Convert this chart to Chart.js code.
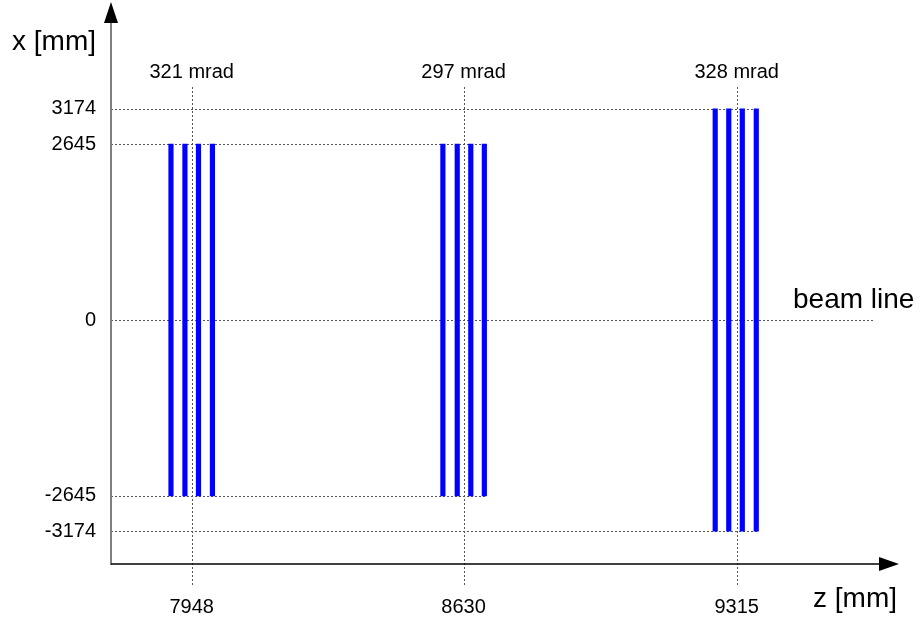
<!DOCTYPE html>
<html>
<head>
<meta charset="utf-8">
<title>Station layout</title>
<script src="https://cdn.jsdelivr.net/npm/chart.js@4.4.0/dist/chart.umd.min.js"></script>
<style>
    html, body { margin: 0; padding: 0; background: #fff; }
    canvas { display: block; }
</style>
</head>
<body>
<canvas id="layout" width="922" height="622"></canvas>
<script>
// stations along the beam: z position (mm), half aperture in x (mm), opening angle
const stationZ = [7948, 8630, 9315];
const stationHalfX = [2645, 2645, 3174];
const stationAngle = ['321 mrad', '297 mrad', '328 mrad'];

// the four layers of every station (z, mm)
const layerZ = [
    [7896, 7931, 7965, 8000],
    [8578, 8614, 8648, 8682],
    [9261, 9295, 9329, 9364]
];

// tick labels of the x axis (vertical, mm)
const xTicks = [3174, 2645, 0, -2645, -3174];

const FONT = 'Liberation Sans, Arial, Helvetica, sans-serif';
const BAR_W = 4.5;

Chart.defaults.font.family = FONT;
Chart.defaults.color = '#000';

const layers = [];
layerZ.forEach((group, i) => {
    group.forEach(z => {
        layers.push({ x: z, y: [-stationHalfX[i], stationHalfX[i]] });
    });
});

// dotted guide lines, under the bars
const guides = {
    id: 'guides',
    beforeDatasetsDraw(chart) {
        const ctx = chart.ctx;
        const area = chart.chartArea;
        const xs = chart.scales.x;
        const ys = chart.scales.y;
        ctx.save();
        ctx.strokeStyle = '#555';
        ctx.lineWidth = 1;
        ctx.setLineDash([2, 2]);

        xTicks.forEach(v => {
            let end;
            if (v === 0) {
                end = area.right - 23;
            } else {
                // run to the outer layer of the last station with that aperture
                let last = 0;
                stationHalfX.forEach((h, i) => { if (h === Math.abs(v)) last = i; });
                const g = layerZ[last];
                end = xs.getPixelForValue(g[g.length - 1]) + BAR_W / 2;
            }
            const py = Math.round(ys.getPixelForValue(v)) + 0.5;
            ctx.beginPath();
            ctx.moveTo(area.left, py);
            ctx.lineTo(end, py);
            ctx.stroke();
        });

        stationZ.forEach(z => {
            const px = Math.round(xs.getPixelForValue(z)) + 0.5;
            ctx.beginPath();
            ctx.moveTo(px, area.top + 84);
            ctx.lineTo(px, area.bottom + 23);
            ctx.stroke();
        });
        ctx.restore();
    }
};

// axes with arrows, titles and angle labels
const frame = {
    id: 'frame',
    afterDraw(chart) {
        const ctx = chart.ctx;
        const area = chart.chartArea;
        const xs = chart.scales.x;
        ctx.save();

        // vertical axis
        ctx.strokeStyle = '#808080';
        ctx.lineWidth = 2;
        ctx.beginPath();
        ctx.moveTo(area.left, area.bottom + 1);
        ctx.lineTo(area.left, area.top + 20);
        ctx.stroke();
        ctx.fillStyle = '#000';
        ctx.beginPath();
        ctx.moveTo(area.left, area.top - 1);
        ctx.lineTo(area.left - 7, area.top + 20);
        ctx.lineTo(area.left + 7, area.top + 20);
        ctx.closePath();
        ctx.fill();

        // horizontal axis
        ctx.strokeStyle = '#000';
        ctx.lineWidth = 1.5;
        ctx.beginPath();
        ctx.moveTo(area.left, area.bottom);
        ctx.lineTo(area.right - 18, area.bottom);
        ctx.stroke();
        ctx.beginPath();
        ctx.moveTo(area.right + 1, area.bottom);
        ctx.lineTo(area.right - 19, area.bottom - 7);
        ctx.lineTo(area.right - 19, area.bottom + 7);
        ctx.closePath();
        ctx.fill();

        ctx.fillStyle = '#000';
        ctx.textBaseline = 'alphabetic';
        ctx.font = '28px ' + FONT;
        ctx.textAlign = 'left';
        ctx.fillText('x [mm]', 12, 50);
        ctx.fillText('beam line', 793, 308);
        ctx.fillText('z [mm]', 813, 607);

        ctx.font = '20px ' + FONT;
        ctx.textAlign = 'center';
        stationZ.forEach((z, i) => {
            ctx.fillText(stationAngle[i], xs.getPixelForValue(z), 78);
        });
        ctx.restore();
    }
};

new Chart(document.getElementById('layout'), {
    type: 'bar',
    data: {
        datasets: [{
            label: 'layers',
            data: layers,
            backgroundColor: '#0000ff',
            borderWidth: 0,
            barThickness: BAR_W
        }]
    },
    options: {
        responsive: false,
        animation: false,
        layout: { padding: { left: 0, right: 24, top: 3, bottom: 0 } },
        plugins: {
            legend: { display: false },
            tooltip: { enabled: false }
        },
        scales: {
            x: {
                type: 'linear',
                min: 7745.6,
                max: 9719.5,
                offset: false,
                grid: { display: false, drawTicks: false },
                border: { display: false },
                afterBuildTicks: s => { s.ticks = stationZ.map(v => ({ value: v })); },
                afterFit: s => {
                    s.height = 58;
                    s.paddingLeft = 0;
                    s.paddingRight = 0;
                },
                ticks: {
                    padding: 31,
                    maxRotation: 0,
                    autoSkip: false,
                    font: { size: 20 },
                    callback: v => String(v)
                }
            },
            y: {
                type: 'linear',
                min: -3669,
                max: 4767,
                grid: { display: false, drawTicks: false },
                border: { display: false },
                afterBuildTicks: s => { s.ticks = xTicks.map(v => ({ value: v })); },
                afterFit: s => {
                    s.width = 111;
                    s.paddingTop = 0;
                    s.paddingBottom = 0;
                },
                ticks: {
                    padding: 15,
                    autoSkip: false,
                    font: { size: 20 },
                    callback: v => String(v)
                }
            }
        }
    },
    plugins: [guides, frame]
});
</script>
</body>
</html>
